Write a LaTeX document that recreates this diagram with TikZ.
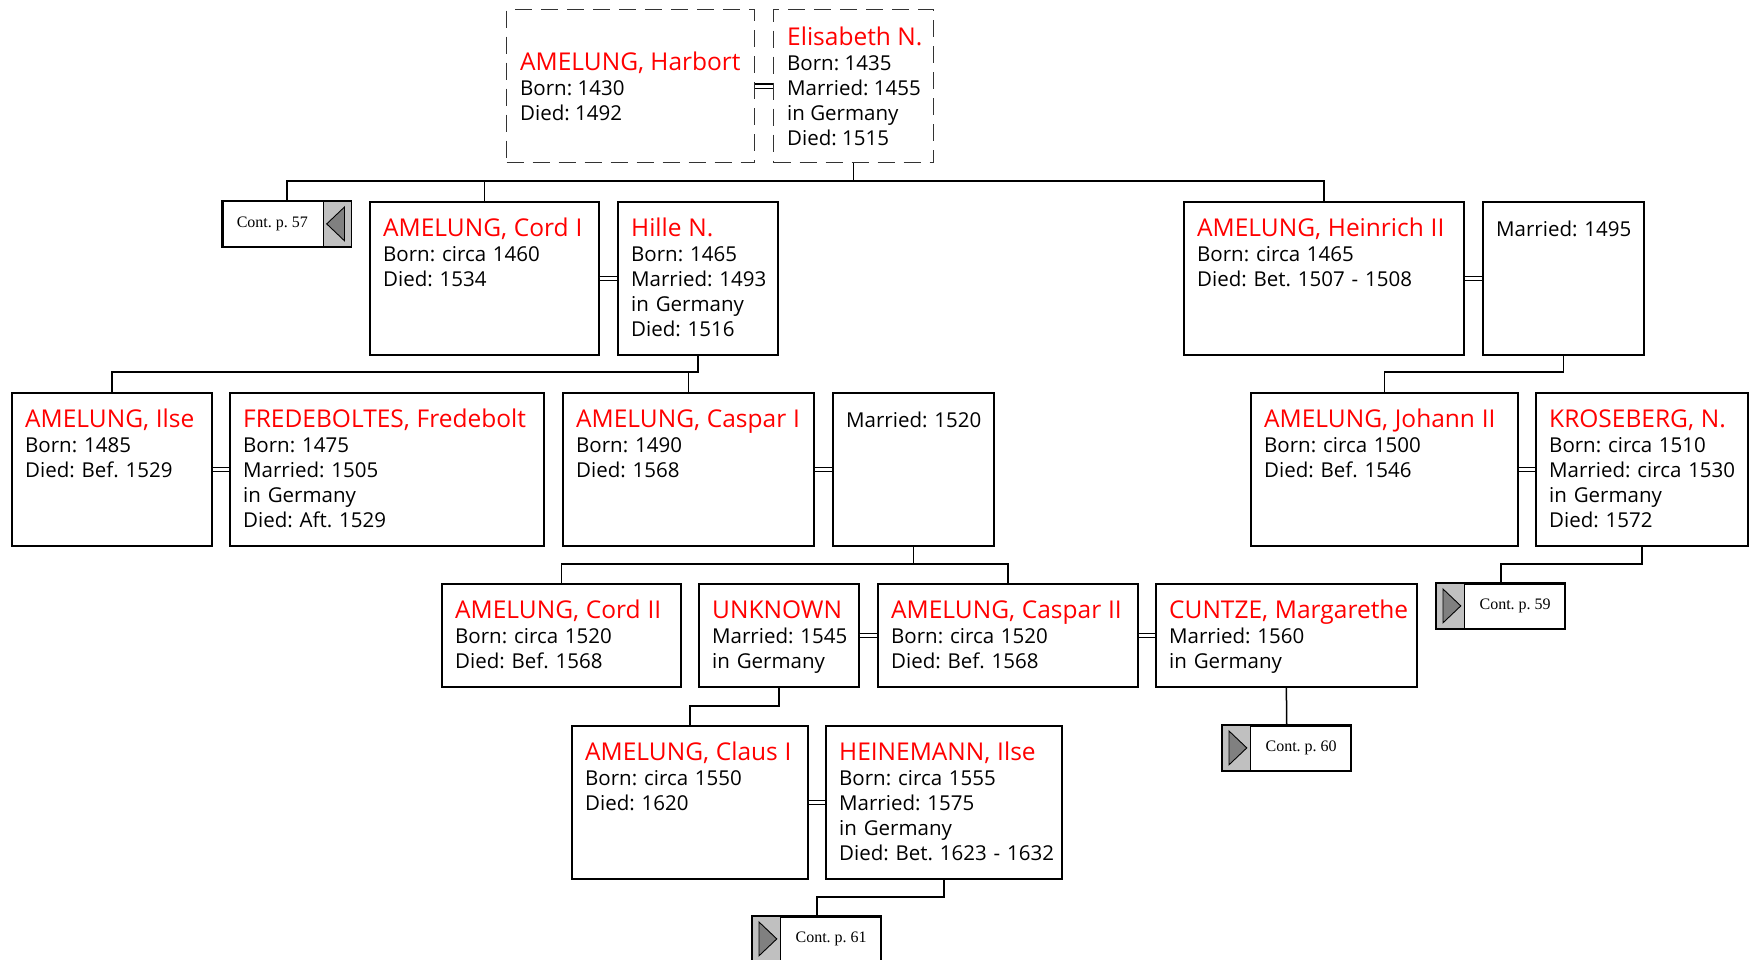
\documentclass[tikz,border=0pt]{standalone}
\usepackage{fontspec}
\setmainfont{Open Sans}
\newfontfamily\contfont{Liberation Serif}
\usepackage{xcolor}
\usetikzlibrary{calc}
\colorlet{namered}{red}
\definecolor{arrowbox}{RGB}{192,192,192}
\definecolor{arrowtip}{RGB}{128,128,128}
\newcommand{\who}[1]{{\fontsize{24.5}{25}\selectfont\color{namered}#1}}
\frenchspacing

\begin{document}
\begin{tikzpicture}[x=1pt,y=1pt,
  box/.style={draw, line width=1.7pt, anchor=north west, inner sep=0pt, minimum height=153pt},
  dbox/.style={draw=black!80, line width=1.3pt, dash pattern=on 17pt off 9pt, anchor=north west, inner sep=0pt, minimum height=153pt},
  info/.style={anchor=north west, inner xsep=14pt, inner ysep=0pt, text width=400pt, align=left, text height=35pt, text depth=0pt, font=\frenchspacing\fontsize{20.5}{25}\selectfont},
  infoc/.style={anchor=west, inner xsep=14pt, inner ysep=0pt, align=left, font=\frenchspacing\fontsize{20.5}{25}\selectfont},
  cont/.style={draw, line width=1.5pt, anchor=north west, inner sep=0pt, minimum width=128pt, minimum height=45pt, fill=white},
  contsq/.style={draw, line width=0.8pt, fill=arrowbox, inner sep=0pt, minimum width=28pt, minimum height=45pt},
  conttxt/.style={font=\contfont\frenchspacing\fontsize{16}{18}\selectfont, inner sep=0pt},
  tip/.style={draw, line width=0.9pt, fill=arrowtip},
  conn/.style={line width=1.5pt},
  marr/.style={double, double distance=2.8pt, line width=1.3pt}]

  \useasboundingbox (0,0) rectangle (1749,-960);
  \fill[white] (0,0) rectangle (1749,-960);

  % rails between the generations
  \coordinate (rail1) at (0,-181);
  \coordinate (rail2) at (0,-372);
  \coordinate (rail3) at (0,-564);
  \coordinate (rail4) at (0,-706);
  \coordinate (rail5) at (0,-897);

  % generation 1
  \node[dbox, minimum width=248pt] (harbort) at (506,-9) {};
  \node[infoc] (harbort-t) at (harbort.west) {\who{AMELUNG, Harbort}\\Born: 1430\\Died: 1492};
  \node[dbox, minimum width=160pt] (elisabeth) at (773,-9) {};
  \node[infoc] (elisabeth-t) at (elisabeth.west) {\who{Elisabeth N.}\\Born: 1435\\Married: 1455\\in Germany\\Died: 1515};

  % generation 2
  \node[cont] (c57) at (222,-201) {};
  \node[contsq, anchor=north east] (c57-sq) at (c57.north east) {};
  \draw[tip] ([xshift=-7pt,yshift=-6pt]c57-sq.north east) -- ([xshift=-7pt,yshift=6pt]c57-sq.south east) -- ([xshift=4pt]c57-sq.west) -- cycle;
  \node[conttxt] (c57-t) at ($(c57.west)!.5!(c57-sq.west)$) {Cont. p. 57};
  \draw[line width=1.5pt] (c57.north west) rectangle (c57.south east);

  \node[box, minimum width=229pt] (cordI) at (369,-201) {};
  \node[info] (cordI-t) at (cordI.north west) {\who{AMELUNG, Cord I}\\Born: circa 1460\\Died: 1534};
  \node[box, minimum width=160pt] (hille) at (617,-201) {};
  \node[info] (hille-t) at (hille.north west) {\who{Hille N.}\\Born: 1465\\Married: 1493\\in Germany\\Died: 1516};
  \node[box, minimum width=280pt] (heinrich) at (1183,-201) {};
  \node[info] (heinrich-t) at (heinrich.north west) {\who{AMELUNG, Heinrich II}\\Born: circa 1465\\Died: Bet. 1507 - 1508};
  \node[box, minimum width=161pt] (mar1495) at (1482,-201) {};
  \node[info] (mar1495-t) at (mar1495.north west) {Married: 1495};

  % generation 3
  \node[box, minimum width=200pt] (ilse) at (11,-392) {};
  \node[info] (ilse-t) at (ilse.north west) {\who{AMELUNG, Ilse}\\Born: 1485\\Died: Bef. 1529};
  \node[box, minimum width=314pt] (fredebolt) at (229,-392) {};
  \node[info] (fredebolt-t) at (fredebolt.north west) {\who{FREDEBOLTES, Fredebolt}\\Born: 1475\\Married: 1505\\in Germany\\Died: Aft. 1529};
  \node[box, minimum width=251pt] (casparI) at (562,-392) {};
  \node[info] (casparI-t) at (casparI.north west) {\who{AMELUNG, Caspar I}\\Born: 1490\\Died: 1568};
  \node[box, minimum width=161pt] (mar1520) at (832,-392) {};
  \node[info] (mar1520-t) at (mar1520.north west) {Married: 1520};
  \node[box, minimum width=267pt] (johann) at (1250,-392) {};
  \node[info] (johann-t) at (johann.north west) {\who{AMELUNG, Johann II}\\Born: circa 1500\\Died: Bef. 1546};
  \node[box, minimum width=212pt] (kroseberg) at (1535,-392) {};
  \node[info] (kroseberg-t) at (kroseberg.north west) {\who{KROSEBERG, N.}\\Born: circa 1510\\Married: circa 1530\\in Germany\\Died: 1572};

  % generation 4
  \node[box, minimum width=239pt, minimum height=103pt] (cordII) at (441,-583) {};
  \node[info] (cordII-t) at (cordII.north west) {\who{AMELUNG, Cord II}\\Born: circa 1520\\Died: Bef. 1568};
  \node[box, minimum width=160pt, minimum height=103pt] (unknown) at (698,-583) {};
  \node[info] (unknown-t) at (unknown.north west) {\who{UNKNOWN}\\Married: 1545\\in Germany};
  \node[box, minimum width=260pt, minimum height=103pt] (casparII) at (877,-583) {};
  \node[info] (casparII-t) at (casparII.north west) {\who{AMELUNG, Caspar II}\\Born: circa 1520\\Died: Bef. 1568};
  \node[box, minimum width=261pt, minimum height=103pt] (cuntze) at (1155,-583) {};
  \node[info] (cuntze-t) at (cuntze.north west) {\who{CUNTZE, Margarethe}\\Married: 1560\\in Germany};

  \node[cont] (c59) at (1436,-583) {};
  \node[contsq, anchor=north west] (c59-sq) at (c59.north west) {};
  \draw[tip] ([xshift=7pt,yshift=-6pt]c59-sq.north west) -- ([xshift=7pt,yshift=6pt]c59-sq.south west) -- ([xshift=-4pt]c59-sq.east) -- cycle;
  \node[conttxt] (c59-t) at ($(c59-sq.east)!.5!(c59.east)$) {Cont. p. 59};
  \draw[line width=1.5pt] (c59.north west) rectangle (c59.south east);

  % generation 5
  \node[box, minimum width=236pt] (claus) at (571,-725) {};
  \node[info] (claus-t) at (claus.north west) {\who{AMELUNG, Claus I}\\Born: circa 1550\\Died: 1620};
  \node[box, minimum width=236pt] (heinemann) at (825,-725) {};
  \node[info] (heinemann-t) at (heinemann.north west) {\who{HEINEMANN, Ilse}\\Born: circa 1555\\Married: 1575\\in Germany\\Died: Bet. 1623 - 1632};

  \node[cont] (c60) at (1222,-725) {};
  \node[contsq, anchor=north west] (c60-sq) at (c60.north west) {};
  \draw[tip] ([xshift=7pt,yshift=-6pt]c60-sq.north west) -- ([xshift=7pt,yshift=6pt]c60-sq.south west) -- ([xshift=-4pt]c60-sq.east) -- cycle;
  \node[conttxt] (c60-t) at ($(c60-sq.east)!.5!(c60.east)$) {Cont. p. 60};
  \draw[line width=1.5pt] (c60.north west) rectangle (c60.south east);

  \node[cont] (c61) at (752,-916) {};
  \node[contsq, anchor=north west] (c61-sq) at (c61.north west) {};
  \draw[tip] ([xshift=7pt,yshift=-6pt]c61-sq.north west) -- ([xshift=7pt,yshift=6pt]c61-sq.south west) -- ([xshift=-4pt]c61-sq.east) -- cycle;
  \node[conttxt] (c61-t) at ($(c61-sq.east)!.5!(c61.east)$) {Cont. p. 61};
  \draw[line width=1.5pt] (c61.north west) rectangle (c61.south east);

  % marriages
  \draw[marr] (harbort.east) -- (elisabeth.west);
  \draw[marr] (cordI.east) -- (hille.west);
  \draw[marr] (heinrich.east) -- (mar1495.west);
  \draw[marr] (ilse.east) -- (fredebolt.west);
  \draw[marr] (casparI.east) -- (mar1520.west);
  \draw[marr] (johann.east) -- (kroseberg.west);
  \draw[marr] (unknown.east) -- (casparII.west);
  \draw[marr] (casparII.east) -- (cuntze.west);
  \draw[marr] (claus.east) -- (heinemann.west);

  % descent lines
  \draw[conn] (elisabeth.south) -- (elisabeth.south |- rail1);
  \draw[conn] (c57.north) |- (heinrich.north |- rail1) -- (heinrich.north);
  \draw[conn] (cordI.north) -- (cordI.north |- rail1);

  \draw[conn] (hille.south) |- (ilse.north |- rail2) -- (ilse.north);
  \draw[conn] (casparI.north) -- (casparI.north |- rail2);
  \draw[conn] (mar1495.south) |- (johann.north |- rail2) -- (johann.north);

  \draw[conn] (mar1520.south) -- (mar1520.south |- rail3);
  \draw[conn] (cordII.north) |- (casparII.north |- rail3) -- (casparII.north);
  \draw[conn] (kroseberg.south) |- (c59.north |- rail3) -- (c59.north);

  \draw[conn] (unknown.south) |- (claus.north |- rail4) -- (claus.north);
  \draw[conn] (cuntze.south) -- (c60.north);
  \draw[conn] (heinemann.south) |- (c61.north |- rail5) -- (c61.north);

\end{tikzpicture}
\end{document}
